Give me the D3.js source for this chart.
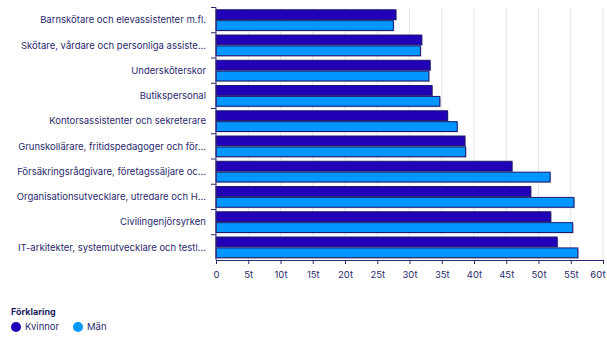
<!DOCTYPE html>
<html><head><meta charset="utf-8">
<script src="https://cdn.jsdelivr.net/npm/d3@7"></script>
<style>body{margin:0;background:#fff}svg{display:block}text{font-family:Inter,"Noto Sans",sans-serif}</style>
</head><body>
<svg id="c" width="607" height="338"></svg>
<script>
const categories = [
  "Barnskötare och elevassistenter m.fl.",
  "Skötare, vårdare och personliga assiste…",
  "Undersköterskor",
  "Butikspersonal",
  "Kontorsassistenter och sekreterare",
  "Grunskollärare, fritidspedagoger och för…",
  "Försäkringsrådgivare, företagssäljare oc…",
  "Organisationsutvecklare, utredare och H…",
  "Civilingenjörsyrken",
  "IT-arkitekter, systemutvecklare och testl…"
];
const kvinnor = [27.9, 31.9, 33.2, 33.5, 35.9, 38.6, 45.9, 48.8, 51.9, 52.9];
const man = [27.5, 31.7, 33.0, 34.7, 37.4, 38.7, 51.8, 55.5, 55.3, 56.1];
const seriesNames = ["Kvinnor", "Män"];
const colors = ["#2200b8", "#0096ff"];
const xTicks = [0,5,10,15,20,25,30,35,40,45,50,55,60];

(function(){
const svg = d3.select("#c");
const pl = 216, pr = 603, pt = 7.5, pb = 260;
const ink = "#2a2a6e";

const x = d3.scaleLinear().domain([0,60]).range([pl,pr]);
const y = d3.scaleBand().domain(categories).range([pt,pb]).paddingInner(0.18).paddingOuter(0.09);
const sub = d3.scaleBand().domain(seriesNames).range([0,y.bandwidth()]).paddingInner(0.1);

// grid
svg.append("g").selectAll("line").data(xTicks.slice(1)).join("line")
  .attr("x1",d=>x(d)).attr("x2",d=>x(d)).attr("y1",pt).attr("y2",pb)
  .attr("stroke","#e6e6e6").attr("stroke-width",1);

// bars
const data = categories.map((c,i)=>({c, vals:[kvinnor[i], man[i]]}));
const g = svg.append("g").selectAll("g").data(data).join("g")
  .attr("transform",d=>`translate(0,${y(d.c)})`);
g.selectAll("rect.sh").data(d=>d.vals.map((v,j)=>({v,s:seriesNames[j],j}))).join("rect")
  .attr("class","sh")
  .attr("x",x(0)+1).attr("y",d=>sub(d.s)+1)
  .attr("width",d=>x(d.v)-x(0)).attr("height",sub.bandwidth())
  .attr("fill","#9a9aae").attr("opacity",0.6);
g.selectAll("rect.b").data(d=>d.vals.map((v,j)=>({v,s:seriesNames[j],j}))).join("rect")
  .attr("class","b")
  .attr("x",x(0)).attr("y",d=>sub(d.s))
  .attr("width",d=>x(d.v)-x(0)).attr("height",sub.bandwidth())
  .attr("fill",d=>colors[d.j]).attr("stroke","#1a1870").attr("stroke-width",1);

// y axis
const ya = svg.append("g").attr("transform",`translate(${pl},0)`);
ya.append("line").attr("x1",0).attr("x2",0).attr("y1",pt).attr("y2",pb).attr("stroke",ink);
const bounds = categories.map(c=>y(c)-y.step()*y.paddingInner()/2);
ya.selectAll("line.t").data(bounds).join("line").attr("class","t")
  .attr("x1",-5).attr("x2",0).attr("y1",d=>d).attr("y2",d=>d).attr("stroke",ink);
ya.selectAll("text").data(categories).join("text")
  .attr("x",-10).attr("y",c=>y(c)+y.bandwidth()/2).attr("dy","0.35em")
  .attr("text-anchor","end").attr("font-size",9.5).attr("fill",ink).text(c=>c);

// x axis
const xa = svg.append("g").attr("transform",`translate(0,${pb})`)
  .call(d3.axisBottom(x).tickValues(xTicks).tickSize(4).tickFormat(d=>d===0?"0":d+"t"));
xa.select(".domain").attr("stroke",ink);
xa.selectAll(".tick line").attr("stroke",ink);
xa.selectAll(".tick text").attr("fill",ink).attr("font-size",9.5).attr("font-family","Inter,sans-serif").attr("dy","1.2em");
xa.selectAll(".tick text").filter(d=>d===60).attr("text-anchor","end").attr("x",2);

// legend
svg.append("text").attr("x",11).attr("y",315).attr("font-size",9).attr("font-weight","bold").attr("fill","#1e1e5e").text("Förklaring");
const lx = [16, 78];
const lg = svg.append("g").selectAll("g").data(seriesNames).join("g").attr("transform",(d,i)=>`translate(${lx[i]},327)`);
lg.append("circle").attr("r",5).attr("fill",(d,i)=>colors[i]);
lg.append("text").attr("x",9).attr("dy","0.35em").attr("font-size",9.5).attr("fill",ink).text(d=>d);
})();
</script>
</body></html>
